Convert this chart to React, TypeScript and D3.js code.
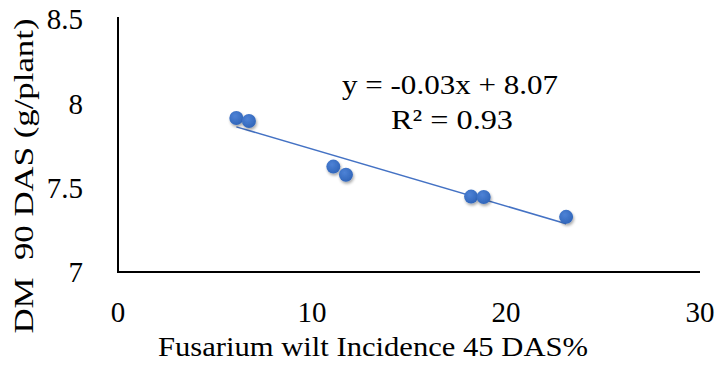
import React from "react";
import * as d3 from "d3";

const xValues = [6.1, 6.75, 11.1, 11.75, 18.2, 18.85, 23.1];
const yValues = [7.913, 7.895, 7.625, 7.577, 7.447, 7.445, 7.327];
const xTicks = [0, 10, 20, 30];
const yTicks = [7, 7.5, 8, 8.5];
const equationText = "y = -0.03x + 8.07";
const r2Label = "R² = 0.93";
const xTitle = "Fusarium wilt Incidence 45 DAS%";
const yTitle = "DM  90 DAS (g/plant)";

export default function App() {
  const W = 721, H = 368;
  const x = d3.scaleLinear().domain([0, 30]).range([118, 700]);
  const y = d3.scaleLinear().domain([7, 8.5]).range([272, 19]);
  const pts = xValues.map((v, i) => [v, yValues[i]] as [number, number]);
  const mx = d3.mean(xValues)!, my = d3.mean(yValues)!;
  const sxy = d3.sum(pts, p => (p[0] - mx) * (p[1] - my));
  const sxx = d3.sum(xValues, v => (v - mx) ** 2);
  const slope = sxy / sxx, icpt = my - slope * mx;
  const x0 = d3.min(xValues)!, x1 = d3.max(xValues)!;
  const font = "'Liberation Serif', 'Times New Roman', serif";
  const fs = 28;
  const tfs = 29;
  return (
    <svg width={W} height={H} style={{ position: "absolute", left: 0, top: 0 }} fontFamily={font}>
      <defs>
        <filter id="sh" x="-50%" y="-50%" width="200%" height="200%">
          <feGaussianBlur in="SourceAlpha" stdDeviation="1.5" />
          <feOffset dx="1" dy="2" result="b" />
          <feComponentTransfer><feFuncA type="linear" slope="0.35" /></feComponentTransfer>
          <feMerge><feMergeNode /><feMergeNode in="SourceGraphic" /></feMerge>
        </filter>
        <radialGradient id="g" cx="40%" cy="35%" r="70%">
          <stop offset="0%" stopColor="#4d82d6" />
          <stop offset="100%" stopColor="#2f64b8" />
        </radialGradient>
      </defs>
      <rect width={W} height={H} fill="#fff" />
      <line x1={x(0)} x2={x(0)} y1={y(8.5) - 2} y2={y(7)} stroke="#000" strokeWidth={2} />
      <line x1={x(0) - 1} x2={x(30)} y1={y(7)} y2={y(7)} stroke="#000" strokeWidth={2} />
      {yTicks.map(t => (
        <text key={t} x={83} y={y(t)} dy="0.36em" textAnchor="end" fontSize={tfs}>{t}</text>
      ))}
      {xTicks.map(t => (
        <text key={t} x={x(t)} y={322} textAnchor="middle" fontSize={tfs}>{t}</text>
      ))}
      <line x1={x(x0)} y1={y(slope * x0 + icpt)} x2={x(x1)} y2={y(slope * x1 + icpt)} stroke="#4472C4" strokeWidth={1.5} />
      {pts.map((p, i) => (
        <circle key={i} cx={x(p[0])} cy={y(p[1])} r={7} fill="url(#g)" filter="url(#sh)" />
      ))}
      <text x={450} y={94} textAnchor="middle" fontSize={fs} textLength={216} lengthAdjust="spacingAndGlyphs">{equationText}</text>
      <text x={452} y={129} textAnchor="middle" fontSize={fs} textLength={122} lengthAdjust="spacingAndGlyphs">{r2Label}</text>
      <text x={373} y={356} textAnchor="middle" fontSize={fs} textLength={430} lengthAdjust="spacingAndGlyphs">{xTitle}</text>
      <text transform={`translate(33,176) rotate(-90)`} textAnchor="middle" fontSize={fs} textLength={315} lengthAdjust="spacingAndGlyphs" style={{ whiteSpace: "pre" }}>{yTitle}</text>
    </svg>
  );
}
